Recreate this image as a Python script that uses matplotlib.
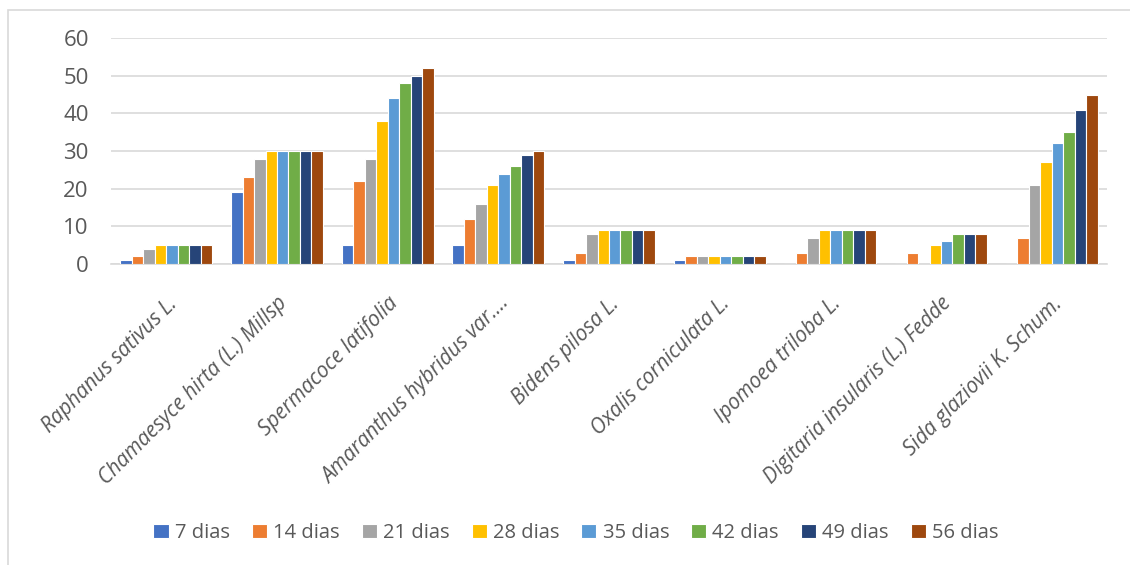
import matplotlib
matplotlib.use("Agg")
import matplotlib.pyplot as plt
import numpy as np
from matplotlib.patches import Rectangle

categories = ["Raphanus sativus L.", "Chamaesyce hirta (L.) Millsp", "Spermacoce latifolia",
              "Amaranthus hybridus var.\u2026", "Bidens pilosa L.", "Oxalis corniculata L.",
              "Ipomoea triloba L.", "Digitaria insularis (L.) Fedde", "Sida glaziovii K. Schum."]
series_names = ["7 dias", "14 dias", "21 dias", "28 dias", "35 dias", "42 dias", "49 dias", "56 dias"]
d7 = [1, 19, 5, 5, 1, 1, 0, 0, 0]
d14 = [2, 23, 22, 12, 3, 2, 3, 3, 7]
d21 = [4, 28, 28, 16, 8, 2, 7, 0, 21]
d28 = [5, 30, 38, 21, 9, 2, 9, 5, 27]
d35 = [5, 30, 44, 24, 9, 2, 9, 6, 32]
d42 = [5, 30, 48, 26, 9, 2, 9, 8, 35]
d49 = [5, 30, 50, 29, 9, 2, 9, 8, 41]
d56 = [5, 30, 52, 30, 9, 2, 9, 8, 45]
series = [d7, d14, d21, d28, d35, d42, d49, d56]
colors = ["#4472C4", "#ED7D31", "#A5A5A5", "#FFC000", "#5B9BD5", "#70AD47", "#264478", "#9E480E"]
yticks = [0, 10, 20, 30, 40, 50, 60]

W, H = 1130, 565
fig = plt.figure(figsize=(W / 100, H / 100), dpi=100)
ax = fig.add_axes([111 / W, 1 - 264 / H, (1107 - 111) / W, (264 - 38) / H])

# outer chart border
fig.patches.append(Rectangle((8 / W, -0.1), 1.2, 1 - 10 / H + 0.1, transform=fig.transFigure,
                             fill=False, edgecolor="#D9D9D9", linewidth=1.2))

x = np.arange(len(categories))
n = len(series)
slot = 0.83 / n
for i, (vals, c, name) in enumerate(zip(series, colors, series_names)):
    ax.bar(x + (i - (n - 1) / 2) * slot, vals, width=slot, color=c, edgecolor="white",
           linewidth=0.8, label=name, zorder=3)

ax.set_xlim(-0.5, len(categories) - 0.5)
ax.set_ylim(0, 60)
ax.set_yticks(yticks)
ax.set_yticklabels([str(t) for t in yticks], fontsize=16, color="#595959", family="Open Sans")
ax.yaxis.grid(True, color="#D9D9D9", linewidth=1.2, zorder=0)
ax.tick_params(axis="y", length=0, pad=16)
ax.tick_params(axis="x", length=0, pad=21)
for s in ["top", "right", "left"]:
    ax.spines[s].set_visible(False)
ax.spines["bottom"].set_color("#D9D9D9")
ax.spines["bottom"].set_linewidth(1.2)
ax.set_xticks(x)
ax.set_xticklabels(categories, rotation=45, ha="right", rotation_mode="anchor",
                   fontsize=15, color="#595959", family="Open Sans", style="italic")

leg = fig.legend(loc="center", bbox_to_anchor=(576 / W, 1 - 533 / H), ncol=8, frameon=False,
                 fontsize=14.5, handlelength=0.75, handleheight=0.75, handletextpad=0.3,
                 columnspacing=1.1)
for t in leg.get_texts():
    t.set_color("#595959")
    t.set_family("Open Sans")

fig.savefig("out.png", dpi=100)
